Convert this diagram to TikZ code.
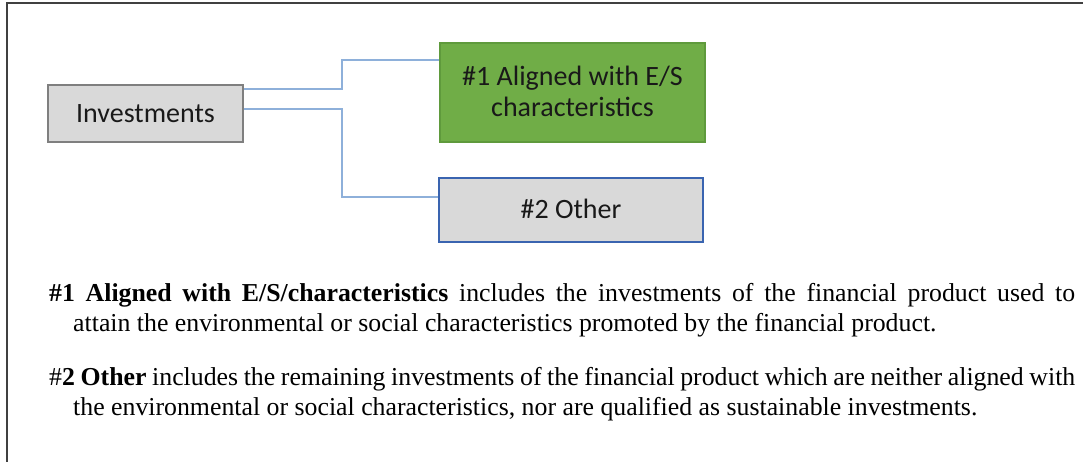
\documentclass[tikz,border=0pt]{standalone}
\usepackage{fontspec}
\newfontfamily\boxfont{Carlito}
\newfontfamily\bodyfont{Liberation Serif}
\definecolor{boxgray}{HTML}{D9D9D9}
\definecolor{boxedge}{HTML}{7F7F7F}
\definecolor{greenfill}{HTML}{70AD47}
\definecolor{greenedge}{HTML}{5F9A3C}
\definecolor{blueedge}{HTML}{3A64B0}
\definecolor{connblue}{HTML}{8EB0DA}
\definecolor{framegray}{HTML}{404040}
\tikzset{
  box/.style={draw, line width=1.5pt, inner sep=0pt, align=center,
    font=\boxfont\fontsize{28}{31}\selectfont, text=black!90},
  conn/.style={draw=connblue, line width=1.3pt},
  bodyline/.style={anchor=base west, inner sep=0pt, font=\bodyfont\fontsize{25.8}{30}\selectfont}
}
\begin{document}
\begin{tikzpicture}[x=1pt,y=-1pt]
\useasboundingbox (0,0) rectangle (1083,462);
\draw[framegray, line width=2pt] (7,462) -- (7,3) -- (1083,3);
\node[box, fill=boxgray, draw=boxedge, minimum width=195pt, minimum height=57pt] (inv) at (145.5,113.5) {Investments};
\node[box, fill=greenfill, draw=greenedge, minimum width=265pt, minimum height=99pt] (aligned) at (572.5,92.5) {\raisebox{2pt}{\#1 Aligned with E/S}\\\raisebox{2pt}{characteristics}};
\node[box, fill=boxgray, draw=blueedge, minimum width=264pt, minimum height=64pt] (other) at (571,210) {\raisebox{3pt}{\#2 Other}};
\draw[conn] (inv.east |- 0,89) -| (342,60) -- (aligned.west |- 0,60);
\draw[conn] (inv.east |- 0,109) -| (342,197) -- (other.west |- 0,197);
\node[bodyline] (l1) at (49,301) {\makebox[1026pt][s]{\textbf{\#1 Aligned with E/S/characteristics} includes the investments of the financial product used to}};
\node[bodyline] (l2) at (73,331) {attain the environmental or social characteristics promoted by the financial product.};
\node[bodyline] (l3) at (49,385) {\makebox[1026pt][s]{\#\textbf{2 Other} includes the remaining investments of the financial product which are neither aligned with}};
\node[bodyline] (l4) at (73,415) {the environmental or social characteristics, nor are qualified as sustainable investments.};
\end{tikzpicture}
\end{document}
